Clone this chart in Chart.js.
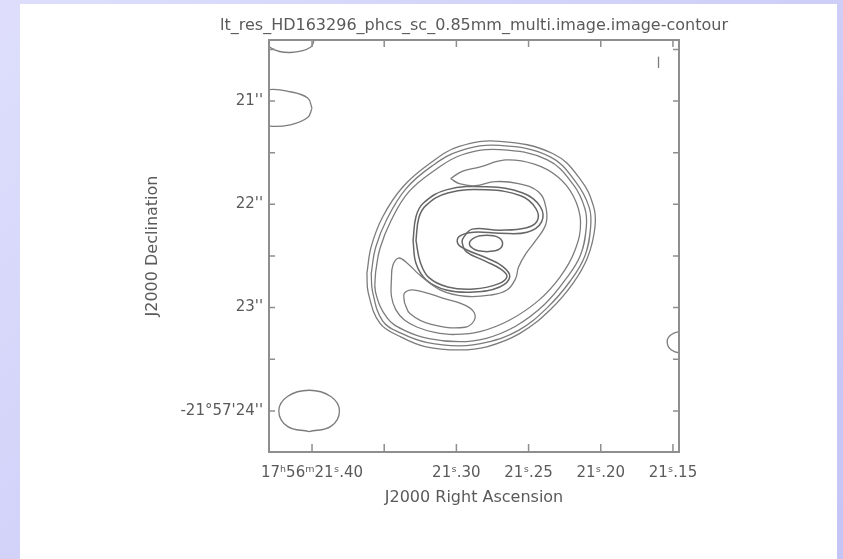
<!DOCTYPE html>
<html>
<head>
<meta charset="utf-8">
<script src="https://cdn.jsdelivr.net/npm/chart.js@4.4.1/dist/chart.umd.min.js"></script>
<style>
  html, body { margin: 0; padding: 0; }
  body {
    width: 843px; height: 559px; overflow: hidden; position: relative;
    background: linear-gradient(135deg, #dedefc 0%, #d0d0f9 50%, #c4c4f6 100%);
  }
  #panel { position: absolute; left: 20px; top: 4px; width: 817px; height: 555px; background: #fff; }
  #wrap { position: absolute; left: 0; top: 0; width: 843px; height: 559px; }
</style>
</head>
<body>
<div id="panel"></div>
<div id="wrap"><canvas id="contourChart"></canvas></div>
<script>
// RA in seconds of 17h56m, Dec in arcsec of -21d57'
const chartTitle = 'lt_res_HD163296_phcs_sc_0.85mm_multi.image.image-contour';
const raTicks = [21.40, 21.35, 21.30, 21.25, 21.20, 21.15];
const raLabels = ['17ʰ56ᵐ21ˢ.40', '', '21ˢ.30', '21ˢ.25', '21ˢ.20', '21ˢ.15'];
const decTicks = [20.5, 21, 21.5, 22, 22.5, 23, 23.5, 24];
const decLabels = ['', "21''", '', "22''", '', "23''", '', "-21°57'24''"];

// each loop starts on a straight stretch so the closing join stays smooth
const ring1 = [[21.362,22.67],[21.359,22.41],[21.351,22.12],[21.337,21.83],[21.318,21.60],[21.298,21.44],[21.270,21.39],[21.233,21.51],[21.214,21.76],[21.205,22.02],[21.204,22.22],[21.209,22.51],[21.219,22.76],[21.235,23.02],[21.256,23.25],[21.279,23.38],[21.298,23.41],[21.321,23.38],[21.339,23.28],[21.353,23.15],[21.361,22.86],[21.362,22.67]];
const ring2 = [[21.359,22.67],[21.356,22.42],[21.348,22.14],[21.335,21.85],[21.317,21.63],[21.297,21.48],[21.270,21.43],[21.235,21.54],[21.217,21.79],[21.208,22.03],[21.207,22.22],[21.211,22.50],[21.221,22.74],[21.237,23.00],[21.257,23.22],[21.280,23.34],[21.298,23.37],[21.320,23.34],[21.338,23.25],[21.351,23.13],[21.358,22.85],[21.359,22.67]];
const ring3 = [[21.356,22.66],[21.353,22.43],[21.345,22.15],[21.333,21.88],[21.315,21.67],[21.296,21.52],[21.270,21.47],[21.237,21.57],[21.219,21.81],[21.211,22.04],[21.210,22.22],[21.214,22.49],[21.224,22.72],[21.239,22.97],[21.259,23.18],[21.280,23.30],[21.298,23.33],[21.319,23.30],[21.336,23.22],[21.348,23.10],[21.356,22.85],[21.356,22.66]];
const gapEdge = [[21.304,21.75],[21.296,21.68],[21.284,21.64],[21.266,21.57],[21.246,21.61],[21.230,21.73],[21.219,21.92],[21.214,22.17],[21.218,22.45],[21.228,22.70],[21.243,22.93],[21.263,23.12],[21.283,23.23],[21.301,23.26],[21.315,23.24],[21.327,23.19],[21.336,23.12],[21.342,23.02],[21.345,22.89],[21.345,22.73],[21.344,22.59],[21.340,22.52],[21.334,22.57],[21.325,22.69],[21.311,22.83],[21.294,22.89],[21.277,22.88],[21.265,22.83],[21.259,22.72],[21.257,22.61],[21.252,22.48],[21.245,22.35],[21.238,22.19],[21.238,22.03],[21.243,21.88],[21.257,21.80],[21.273,21.78],[21.287,21.82],[21.298,21.80],[21.304,21.75]];
const spiralOuter = [[21.330,22.35],[21.328,22.12],[21.323,21.99],[21.307,21.86],[21.279,21.83],[21.254,21.89],[21.242,22.02],[21.241,22.17],[21.251,22.27],[21.270,22.28],[21.288,22.27],[21.298,22.31],[21.299,22.38],[21.293,22.44],[21.279,22.52],[21.268,22.60],[21.263,22.70],[21.270,22.80],[21.288,22.85],[21.307,22.83],[21.321,22.73],[21.328,22.57],[21.330,22.35]];
const spiralInner = [[21.328,22.35],[21.326,22.13],[21.321,22.01],[21.306,21.89],[21.279,21.86],[21.255,21.92],[21.245,22.04],[21.244,22.16],[21.252,22.23],[21.270,22.25],[21.289,22.24],[21.295,22.32],[21.296,22.37],[21.293,22.46],[21.280,22.55],[21.269,22.63],[21.265,22.70],[21.271,22.77],[21.288,22.82],[21.306,22.80],[21.319,22.71],[21.325,22.56],[21.328,22.35]];
const coreKnot = [[21.279,22.46],[21.287,22.44],[21.291,22.38],[21.287,22.32],[21.279,22.30],[21.271,22.32],[21.268,22.38],[21.271,22.44],[21.279,22.46]];
const southBlob = [[21.336,22.95],[21.336,22.86],[21.329,22.83],[21.309,22.91],[21.291,23.00],[21.287,23.10],[21.294,23.19],[21.318,23.16],[21.332,23.06],[21.336,22.95]];
const noiseNW = [[21.398,20.37],[21.401,20.48],[21.415,20.53],[21.428,20.49],[21.432,20.39],[21.428,20.29],[21.415,20.25],[21.401,20.29],[21.398,20.37]];
const noiseW = [[21.400,21.07],[21.403,21.16],[21.415,21.23],[21.430,21.24],[21.443,21.16],[21.443,20.97],[21.430,20.89],[21.415,20.91],[21.403,20.97],[21.400,21.07]];
const noiseSW = [[21.402,24.20],[21.417,24.15],[21.423,24.00],[21.417,23.86],[21.402,23.80],[21.387,23.86],[21.381,24.00],[21.387,24.15],[21.402,24.20]];
const noiseE = [[21.132,23.33],[21.135,23.41],[21.143,23.44],[21.151,23.41],[21.154,23.33],[21.151,23.26],[21.143,23.23],[21.135,23.26],[21.132,23.33]];
const noiseNE = [[21.160,20.57],[21.160,20.68]];

const faint = [ring1, ring2, ring3, gapEdge, southBlob, noiseNW, noiseW, noiseSW, noiseE, noiseNE];
const bright = [spiralOuter, spiralInner, coreKnot];

const textColor = '#5a5a5a';
const lineColor = '#7c7c7c';
const spiralColor = '#666666';

function contour(c, color, width) {
    return {
        data: c.map(p => ({x: p[0], y: p[1]})),
        showLine: true,
        pointRadius: 0,
        borderColor: color,
        borderWidth: width,
        tension: 0.4
    };
}

// box, inward ticks on all four sides and the title centred over the box
const framePlugin = {
    id: 'frame',
    afterDatasetsDraw(chart) {
        const {ctx, chartArea: a, scales: {x, y}} = chart;
        ctx.save();
        ctx.strokeStyle = '#8e8e8e';
        ctx.lineWidth = 2;
        ctx.strokeRect(a.left, a.top, a.right - a.left, a.bottom - a.top);
        ctx.lineWidth = 1.5;
        ctx.beginPath();
        raTicks.forEach(v => {
            const px = x.getPixelForValue(v);
            ctx.moveTo(px, a.bottom); ctx.lineTo(px, a.bottom - 8);
            ctx.moveTo(px, a.top); ctx.lineTo(px, a.top + 7);
        });
        decTicks.forEach(v => {
            const py = y.getPixelForValue(v);
            ctx.moveTo(a.left, py); ctx.lineTo(a.left + 6, py);
            ctx.moveTo(a.right, py); ctx.lineTo(a.right - 6, py);
        });
        ctx.stroke();

        ctx.fillStyle = textColor;
        ctx.font = '16px "DejaVu Sans"';
        ctx.textAlign = 'center';
        ctx.textBaseline = 'middle';
        ctx.fillText(chartTitle, (a.left + a.right) / 2, 26);
        ctx.restore();
    }
};

const datasets = faint.map(c => contour(c, lineColor, 1.3))
    .concat(bright.map(c => contour(c, spiralColor, 1.5)));

new Chart(document.getElementById('contourChart'), {
    type: 'scatter',
    data: { datasets },
    options: {
        responsive: true,
        maintainAspectRatio: false,
        animation: false,
        events: [],
        layout: { padding: { left: 143, top: 40, right: 164, bottom: 52 } },
        plugins: {
            legend: { display: false },
            tooltip: { enabled: false },
            title: { display: false }
        },
        scales: {
            x: {
                type: 'linear',
                reverse: true,
                min: 21.1458,
                max: 21.4298,
                afterBuildTicks: scale => { scale.ticks = raTicks.map(v => ({value: v})); },
                afterFit: scale => { scale.height = 55; },
                grid: { display: false, drawTicks: false },
                border: { display: false },
                ticks: {
                    color: textColor,
                    padding: 12,
                    maxRotation: 0,
                    autoSkip: false,
                    font: { family: 'DejaVu Sans', size: 15 },
                    callback: (v, i) => raLabels[i]
                },
                title: {
                    display: true,
                    text: 'J2000 Right Ascension',
                    color: textColor,
                    padding: 0,
                    font: { family: 'DejaVu Sans', size: 16 }
                }
            },
            y: {
                type: 'linear',
                reverse: true,
                min: 20.409,
                max: 24.398,
                afterBuildTicks: scale => { scale.ticks = decTicks.map(v => ({value: v})); },
                afterFit: scale => { scale.width = 126; },
                grid: { display: false, drawTicks: false },
                border: { display: false },
                ticks: {
                    color: textColor,
                    padding: 6,
                    autoSkip: false,
                    font: { family: 'DejaVu Sans', size: 15 },
                    callback: (v, i) => decLabels[i]
                },
                title: {
                    display: true,
                    text: 'J2000 Declination',
                    color: textColor,
                    padding: 0,
                    font: { family: 'DejaVu Sans', size: 16 }
                }
            }
        }
    },
    plugins: [framePlugin]
});
</script>
</body>
</html>
